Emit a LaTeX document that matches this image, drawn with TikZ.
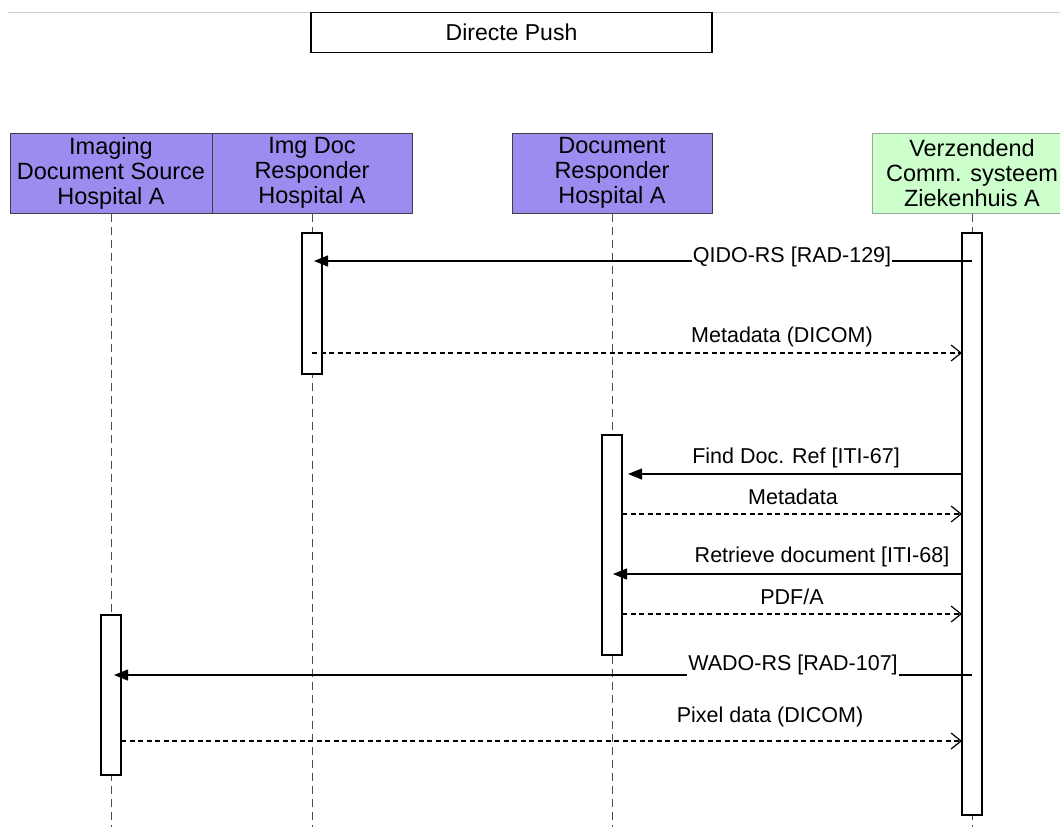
\documentclass[tikz,border=0pt]{standalone}
\usepackage{fontspec}
\setmainfont{Liberation Sans}
\usetikzlibrary{arrows.meta}
\definecolor{actorfill}{RGB}{157,140,240}
\definecolor{senderfill}{RGB}{204,255,204}
\definecolor{senderdraw}{RGB}{150,170,150}
\begin{document}
\begin{tikzpicture}[x=1pt,y=-1pt,
  actorbox/.style={draw=black!75, line width=1pt, fill=actorfill, minimum height=80pt, align=center, inner sep=0pt, font=\fontsize{23.5}{25}\selectfont},
  senderbox/.style={actorbox, draw=senderdraw, fill=senderfill},
  titlebox/.style={draw=black, line width=1.2pt, fill=white, minimum width=401pt, minimum height=40pt, inner sep=0pt, font=\fontsize{23}{25}\selectfont},
  lifeline/.style={draw=black!70, line width=1pt, dash pattern=on 8pt off 5pt},
  activation/.style={draw=black, line width=1.1pt, fill=white, minimum width=20pt, inner sep=0pt},
  syncmsg/.style={draw=black, line width=1.2pt, -{Triangle[length=14pt,width=11pt]}},
  replymsg/.style={draw=black, line width=1.1pt, dash pattern=on 5pt off 3.5pt, -{Straight Barb[length=10pt,width=16pt,line width=1.2pt]}},
  msglabel/.style={inner sep=1pt, font=\fontsize{21.5}{24}\selectfont}
]
\useasboundingbox (0,0) rectangle (1060,827);
\draw[black!20, line width=1pt] (8,12) -- (1060,12);

\node[titlebox] (title) at (511.5,32.5) {Directe Push};

% participants
\node[actorbox, minimum width=202pt] (p1) at (111,173) {Imaging\\Document Source\\Hospital A};
\node[actorbox, minimum width=200pt] (p2) at (312,173) {Img Doc\\Responder\\Hospital A};
\node[actorbox, minimum width=200pt] (p3) at (612,173) {Document\\Responder\\Hospital A};
\node[senderbox, minimum width=200pt] (p4) at (972,173) {Verzendend\\Comm. systeem\\Ziekenhuis A};

% lifelines
\coordinate (e1) at (111,827);
\coordinate (e2) at (312,827);
\coordinate (e3) at (612,827);
\coordinate (e4) at (972,827);
\draw[lifeline] (p1.south) -- (e1);
\draw[lifeline] (p2.south) -- (e2);
\draw[lifeline] (p3.south) -- (e3);
\draw[lifeline] (p4.south) -- (e4);

% activation bars
\node[activation, minimum height=141pt] (b2) at (312,303.5) {};
\node[activation, minimum height=220pt] (b3) at (612,545) {};
\node[activation, minimum height=160pt] (b1) at (111,695) {};
\node[activation, minimum height=582pt] (b4) at (972,524) {};

% message end points
\coordinate (m1a) at (972,261); \coordinate (m1b) at (314,261);
\coordinate (m2a) at (312,353); \coordinate (m2b) at (962,353);
\coordinate (m3a) at (962,474); \coordinate (m3b) at (628,474);
\coordinate (m4a) at (622,514); \coordinate (m4b) at (962,514);
\coordinate (m5a) at (962,574); \coordinate (m5b) at (613,574);
\coordinate (m6a) at (622,614); \coordinate (m6b) at (962,614);
\coordinate (m7a) at (972,675); \coordinate (m7b) at (114,675);
\coordinate (m8a) at (121,741); \coordinate (m8b) at (962,741);

\draw[syncmsg] (m1a) -- (m1b);
\node[msglabel, fill=white] (l1) at (792,257) {QIDO-RS [RAD-129]};
\draw[replymsg] (m2a) -- (m2b);
\node[msglabel] (l2) at (782,337) {Metadata (DICOM)};
\draw[syncmsg] (m3a) -- (m3b);
\node[msglabel] (l3) at (796,458) {Find Doc. Ref [ITI-67]};
\draw[replymsg] (m4a) -- (m4b);
\node[msglabel] (l4) at (793,497) {Metadata};
\draw[syncmsg] (m5a) -- (m5b);
\node[msglabel] (l5) at (822,557) {Retrieve document [ITI-68]};
\draw[replymsg] (m6a) -- (m6b);
\node[msglabel] (l6) at (792,597) {PDF/A};
\draw[syncmsg] (m7a) -- (m7b);
\node[msglabel, fill=white] (l7) at (793,665) {WADO-RS [RAD-107]};
\draw[replymsg] (m8a) -- (m8b);
\node[msglabel] (l8) at (770,717) {Pixel data (DICOM)};
\end{tikzpicture}
\end{document}
